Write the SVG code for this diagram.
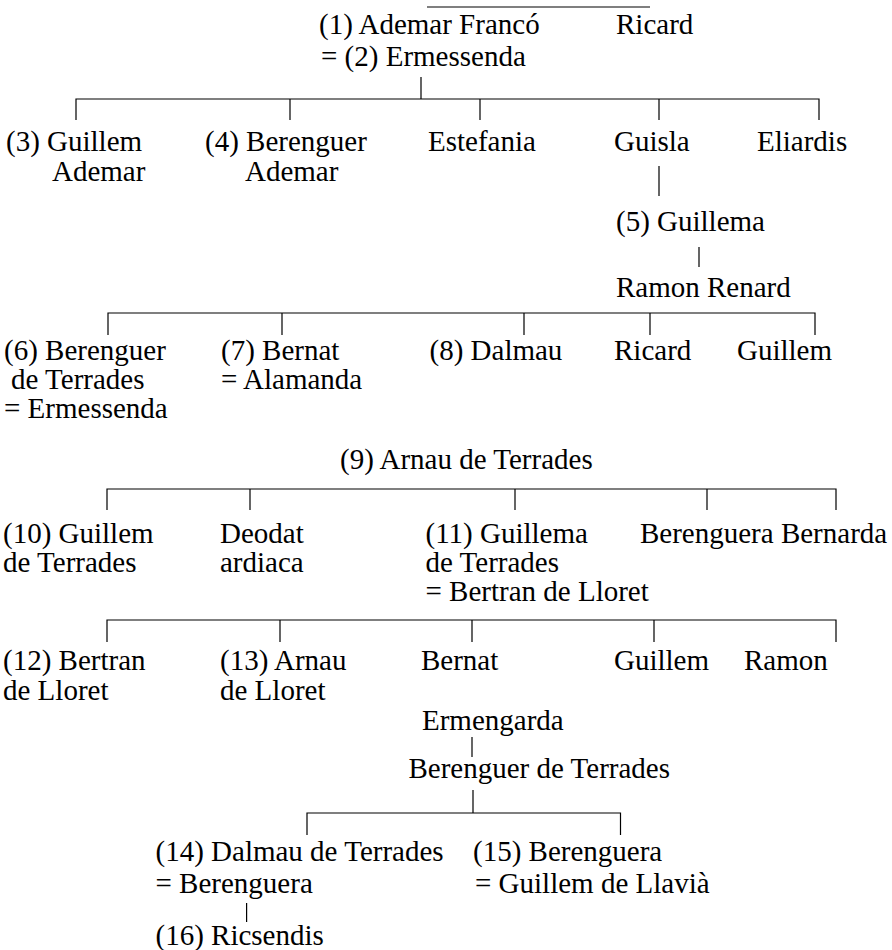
<svg xmlns="http://www.w3.org/2000/svg" width="892" height="950" viewBox="0 0 892 950">
<style>
text{font-family:"Liberation Serif","Times New Roman",serif;font-size:29px;fill:#000}
.c{stroke:#000;stroke-width:1.2;fill:none}
</style>
<rect width="892" height="950" fill="#fff"/>
<g id="connectors" class="c">
<path d="M427 7H650"/>
<path d="M421 77V99M76 120V99H819V120M290 99V120M480 99V120M659 99V120"/>
<path d="M659 166V196M699 247V267"/>
<path d="M108 335V313H815V335M282 313V335M524 313V335M650 313V335"/>
<path d="M107 510V489H836V510M250 489V510M515 489V510M707 489V510"/>
<path d="M107 642V620H836V642M280 620V642M472 620V642M654 620V642"/>
<path d="M472 737V757"/>
<path d="M473 790V813M307 835V813H620.5V835"/>
<path d="M246.6 903V922"/>
</g>
<g id="n1"><text x="319" y="34">(1) Ademar Francó</text><text x="321" y="66">= (2) Ermessenda</text></g>
<g id="ricard1"><text x="616" y="34">Ricard</text></g>
<g id="n3"><text x="6" y="151">(3) Guillem</text><text x="52" y="181">Ademar</text></g>
<g id="n4"><text x="205" y="151">(4) Berenguer</text><text x="245" y="181">Ademar</text></g>
<g id="estefania"><text x="428" y="151">Estefania</text></g>
<g id="guisla"><text x="614" y="151">Guisla</text></g>
<g id="eliardis"><text x="757" y="151">Eliardis</text></g>
<g id="n5"><text x="616" y="231">(5) Guillema</text></g>
<g id="ramon-renard"><text x="616" y="297">Ramon Renard</text></g>
<g id="n6"><text x="4" y="360">(6) Berenguer</text><text x="11" y="389">de Terrades</text><text x="4" y="418">= Ermessenda</text></g>
<g id="n7"><text x="221" y="360">(7) Bernat</text><text x="221" y="389">= Alamanda</text></g>
<g id="n8"><text x="429.5" y="360">(8) Dalmau</text></g>
<g id="ricard2"><text x="614" y="360">Ricard</text></g>
<g id="guillem1"><text x="737" y="360">Guillem</text></g>
<g id="n9"><text x="340" y="469">(9) Arnau de Terrades</text></g>
<g id="n10"><text x="3" y="543">(10) Guillem</text><text x="3" y="572">de Terrades</text></g>
<g id="deodat"><text x="220" y="543">Deodat</text><text x="220" y="572">ardiaca</text></g>
<g id="n11"><text x="425.5" y="543">(11) Guillema</text><text x="425.5" y="572">de Terrades</text><text x="425.5" y="601">= Bertran de Lloret</text></g>
<g id="berenguera-bernarda"><text x="640" y="543">Berenguera Bernarda</text></g>
<g id="n12"><text x="3" y="670">(12) Bertran</text><text x="3" y="700">de Lloret</text></g>
<g id="n13"><text x="220" y="670">(13) Arnau</text><text x="220" y="700">de Lloret</text></g>
<g id="bernat"><text x="421" y="670">Bernat</text></g>
<g id="guillem2"><text x="614" y="670">Guillem</text></g>
<g id="ramon"><text x="744" y="670">Ramon</text></g>
<g id="ermengarda"><text x="422" y="730">Ermengarda</text></g>
<g id="berenguer-terrades"><text x="408.5" y="778">Berenguer de Terrades</text></g>
<g id="n14"><text x="155.5" y="861">(14) Dalmau de Terrades</text><text x="155.5" y="893">= Berenguera</text></g>
<g id="n15"><text x="473" y="861">(15) Berenguera</text><text x="475" y="893">= Guillem de Llavià</text></g>
<g id="n16"><text x="155.5" y="945">(16) Ricsendis</text></g>
</svg>
